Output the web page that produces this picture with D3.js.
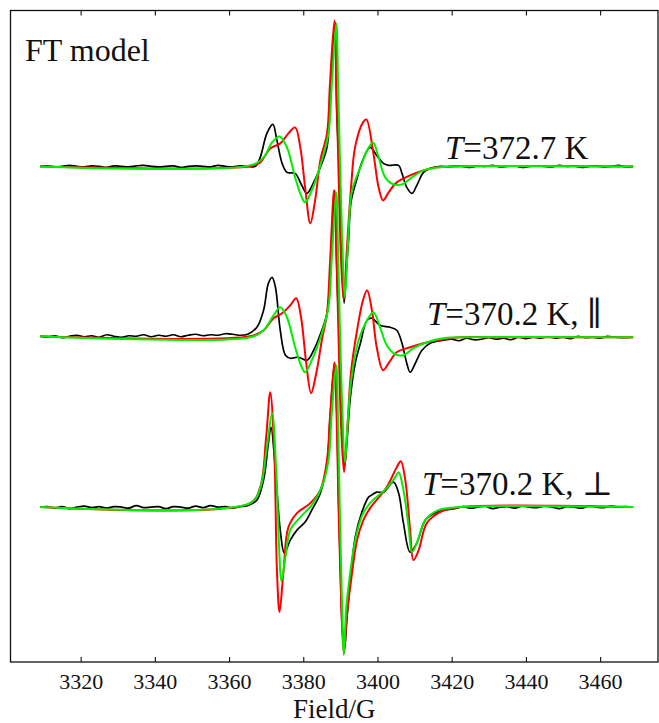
<!DOCTYPE html>
<html>
<head>
<meta charset="UTF-8">
<script src="https://cdn.jsdelivr.net/npm/d3@7"></script>
<style>
  body { margin: 0; background: #fff; }
</style>
</head>
<body>
<script>
// field axis (G) and tick values
const fieldExtent = [3301.1, 3475.6];
const xTicks = [3320, 3340, 3360, 3380, 3400, 3420, 3440, 3460];
// vertical offsets of the three stacked spectra (a.u.)
const offsets = [0, -170, -341];
const yDomain = [-496, 156];
const tempLabels = ["372.7 K", "370.2 K, \u2225", "370.2 K, \u22A5"];

// spectrum 1, T = 372.7 K  -- [field, intensity]
const black1 = [[3309.1,0],[3311,0.5],[3313,-0.5],[3315,0],[3317,1],[3319,0],[3321,-0.5],[3323,0.5],[3325,0],[3327,-1],[3329,0.5],[3331,0],[3333,-0.5],[3335,0.5],[3337,1],[3339,0],[3341,-0.5],[3343,0],[3345,0.5],[3347,-1],[3349,0],[3351,0.5],[3353,0],[3355,-0.5],[3357,1],[3359,0],[3361,-0.5],[3363,0.5],[3365,0],
  [3367.1,0],[3368.4,9],[3370.2,33],[3371.8,42],[3372.9,26],[3374.3,3],[3375.6,-6],[3377.8,-7],[3379.6,-19],[3381.0,-27],[3382.8,-16],[3385.0,3],[3386.4,19],[3387.2,66],[3388.2,133],[3388.6,144],
  [3389.0,56],[3389.8,-11],[3390.2,-77],[3391.0,-137],[3391.6,-105],[3392.2,-74],[3392.9,-35],[3394.5,-12],[3395.8,4],[3398.0,19],[3399.8,11],[3401.6,3],[3403.0,1],[3405.7,1],[3406.6,-7],[3407.9,-21],[3409.3,-27],[3410.6,-19],[3412.4,-6],[3414.2,-2],
  [3416.9,0],[3419,-0.5],[3421,0.5],[3423,0],[3425,-1],[3427,0.5],[3429,0],[3431,1],[3433,-0.5],[3435,0],[3437,0.5],[3439,-1],[3441,0],[3443,0.5],[3445,0],[3447,-0.5],[3449,1],[3451,0],[3453,0.5],[3455,-1],[3457,0],[3459,0.5],[3461,-0.5],[3463,0],[3465,1],[3467,-0.5],[3468.9,0]];
const red1 = [[3309.1,0],[3365.7,0],[3368.4,4],[3371.1,18],[3373.8,23],[3376.0,33],[3377.8,39],[3379.2,19],[3380.5,-21],[3381.9,-57],[3383.2,-34],[3384.6,6],[3386.4,33],[3387.2,83],[3388.4,146],
  [3389.0,70],[3389.6,-20],[3390.2,-95],[3390.9,-134],[3391.8,-80],[3392.9,-20],[3394.0,20],[3396.1,44],[3397.0,47],[3398.9,13],[3400.3,-21],[3401.5,-34],[3403.0,-26],[3405.2,-16],[3408.8,-9],[3412.4,-4],[3416.0,-1],[3420,0],[3468.9,0]];
const green1 = [[3309.1,0],[3365.7,1],[3369.3,9],[3371.6,24],[3373.6,30],[3375.6,19],[3377.8,-11],[3379.6,-31],[3380.5,-36],[3382.3,-24],[3385.0,6],[3386.8,33],[3387.7,83],[3388.9,143],
  [3389.4,80],[3390.0,-10],[3390.5,-75],[3391.2,-131],[3392.1,-74],[3393.1,-25],[3395.4,-1],[3397.2,16],[3398.8,24],[3400.3,9],[3402.1,-11],[3404.3,-18],[3406.6,-18],[3409.3,-11],[3412.4,-4],[3416.0,-1],[3420,0],[3468.9,0]];

// spectrum 2, T = 370.2 K, parallel
const black2 = [[3309.1,0],[3311,-1],[3313,0.5],[3315,-1.5],[3317,0],[3319,1],[3321,-0.5],[3323,0.5],[3325,-1],[3327,1.5],[3329,0],[3331,-1],[3333,0.5],[3335,0],[3337,1.5],[3339,-0.5],[3341,1],[3343,0],[3345,1.5],[3347,-0.5],[3349,1],[3351,2],[3353,0.5],[3355,1.5],[3357,1],[3359,2.5],[3361,2],[3363,1],[3365,2],
  [3367.5,9],[3369.3,26],[3370.6,53],[3371.6,59],[3372.5,49],[3373.8,6],[3375.2,-19],[3376.5,-22],[3378.7,-21],[3381.0,-24],[3382.8,-14],[3385.0,6],[3386.4,23],[3387.2,60],[3388.0,120],[3388.5,146],
  [3389.1,56],[3389.8,-10],[3390.3,-75],[3391.1,-131],[3391.8,-104],[3392.7,-61],[3394.0,-27],[3395.4,-7],[3397.2,16],[3398.5,18],[3400.7,11],[3403.4,9],[3405.2,6],[3406.6,-7],[3407.9,-27],[3408.8,-36],[3410.2,-27],[3412.0,-14],[3414.2,-7],[3417.8,-4],
  [3420,-3],[3422,-4.5],[3424,-2],[3426,-3.5],[3428,-3],[3430,-1.5],[3432,-3],[3434,-2],[3436,-3.5],[3438,-1],[3440,-2.5],[3442,-1],[3444,-2],[3446,-0.5],[3448,-2],[3450,-1],[3452,-2.5],[3454,0],[3456,-1.5],[3458,-1],[3460,-2],[3462,0],[3464,-1],[3466,-1.5],[3468.9,-1]];
const red2 = [[3309.1,0],[3365.7,0],[3369.3,6],[3372.0,18],[3374.3,23],[3376.5,31],[3378.1,38],[3379.4,19],[3380.8,-27],[3382.1,-57],[3383.5,-37],[3385.0,-4],[3386.4,23],[3387.2,73],[3388.3,146],
  [3388.9,90],[3389.5,0],[3390.2,-90],[3391.0,-136],[3391.9,-90],[3392.9,-35],[3394.5,6],[3396.1,36],[3397.2,46],[3398.5,26],[3399.8,-11],[3401.5,-34],[3403.0,-27],[3405.2,-16],[3408.8,-11],[3412.4,-7],[3417.8,-3],[3422.3,-1],[3430,-1],[3468.9,-1]];
const green2 = [[3309.1,0],[3365.7,-1],[3369.3,6],[3372.0,21],[3373.8,29],[3375.6,19],[3377.8,-11],[3379.6,-31],[3380.5,-36],[3382.3,-24],[3385.0,3],[3386.8,29],[3387.7,79],[3388.9,144],
  [3389.4,80],[3390.0,-10],[3390.5,-70],[3391.2,-126],[3392.1,-80],[3392.9,-45],[3394.9,-4],[3397.2,16],[3398.9,24],[3400.7,9],[3402.5,-9],[3404.8,-18],[3407.0,-19],[3409.7,-12],[3413.3,-6],[3417.8,-2],[3425,-1],[3468.9,-1]];

// spectrum 3, T = 370.2 K, perpendicular
const black3 = [[3309.1,0],[3311,0.5],[3313,-1],[3315,0.5],[3317,-1.5],[3319,0],[3321,1],[3323,-0.5],[3325,0.5],[3327,-1],[3329,0.5],[3331,0],[3333,-1],[3335,1.5],[3337,-0.5],[3339,0],[3341,0.5],[3343,-1.5],[3345,0.5],[3347,0],[3349,-1],[3351,1],[3353,-0.5],[3355,1.5],[3357,0],[3359,0.5],[3361,-1],[3363,0.5],[3365,1.5],
  [3367.5,7],[3369.3,27],[3370.6,64],[3371.3,80],[3372.5,37],[3373.8,-23],[3374.9,-46],[3376.5,-33],[3378.3,-23],[3380.5,-15],[3382.3,-3],[3384.6,14],[3386.4,44],[3387.2,87],[3388.4,144],
  [3389.0,100],[3389.5,10],[3390.0,-60],[3390.5,-120],[3391.1,-142],[3391.8,-110],[3392.7,-73],[3394.0,-30],[3395.8,-5],[3397.6,10],[3398.4,12],[3399.8,15],[3401.6,15],[3404.3,25],[3405.7,14],[3407.0,-16],[3408.8,-45],[3410.6,-36],[3412.9,-13],[3416.0,-5],
  [3421.4,-1],[3423,0.5],[3425,-1],[3427,0],[3429,1],[3431,-1.5],[3433,0],[3435,0.5],[3437,-1],[3439,1],[3441,0],[3443,-0.5],[3445,1],[3447,0],[3449,-1.5],[3451,0.5],[3453,0],[3455,-1],[3457,1],[3459,0],[3461,-0.5],[3463,1],[3465,0],[3467,0.5],[3468.9,0]];
const red3 = [[3309.1,0],[3365.7,4],[3368.4,20],[3370.0,70],[3371.1,115],[3372.2,54],[3372.9,-63],[3373.6,-105],[3374.7,-63],[3376.0,-20],[3378.3,-6],[3381.9,4],[3384.6,17],[3386.4,47],[3387.2,90],[3388.4,145],
  [3389.0,90],[3389.5,0],[3390.1,-80],[3390.6,-130],[3391.0,-146],[3391.7,-110],[3392.9,-73],[3394.5,-33],[3396.2,-13],[3398.0,-1],[3402.5,20],[3405.2,40],[3406.3,46],[3407.5,27],[3408.8,-23],[3409.7,-53],[3411.1,-43],[3413.3,-16],[3416.9,-5],[3422.3,0],[3468.9,0]];
const green3 = [[3309.1,0],[3365.7,4],[3368.4,19],[3370.2,60],[3371.6,94],[3372.7,37],[3373.6,-50],[3374.1,-74],[3375.2,-50],[3376.5,-23],[3379.2,-10],[3382.3,2],[3385.0,20],[3386.8,47],[3387.7,95],[3388.9,142],
  [3389.4,80],[3389.9,-10],[3390.4,-90],[3390.9,-148],[3391.6,-100],[3392.4,-73],[3394.0,-33],[3395.9,-8],[3398.0,4],[3402.5,19],[3404.8,30],[3405.7,35],[3407.0,17],[3408.4,-20],[3409.3,-45],[3410.6,-36],[3412.9,-13],[3416.4,-3],[3422.3,0],[3468.9,0]];

const spectra = [
  {black: black1, red: red1, green: green1},
  {black: black2, red: red2, green: green2},
  {black: black3, red: red3, green: green3}
];

const serif = '"Liberation Serif", "Times New Roman", Times, "Nimbus Roman", "DejaVu Serif", serif';

const W = 659, H = 723;
const margin = {top: 10.5, right: 1, bottom: 61, left: 10.5};
const width = W - margin.left - margin.right;
const height = H - margin.top - margin.bottom;

const svg = d3.select("body").append("svg")
  .attr("width", W).attr("height", H);
const g = svg.append("g")
  .attr("transform", "translate(" + margin.left + "," + margin.top + ")");

const x = d3.scaleLinear().domain(fieldExtent).range([0, width]);
const y = d3.scaleLinear().domain(yDomain).range([height, 0]);

// clip to frame
g.append("clipPath").attr("id", "clip")
  .append("rect").attr("width", width).attr("height", height);

const plot = g.append("g").attr("clip-path", "url(#clip)");

spectra.forEach(function(s, i) {
  const line = d3.line()
    .x(function(d) { return x(d[0]); })
    .y(function(d) { return y(d[1] + offsets[i]); })
    .curve(d3.curveCatmullRom.alpha(0.5));
  plot.append("path").datum(s.black)
    .attr("fill", "none").attr("stroke", "#000").attr("stroke-width", 1.7)
    .attr("stroke-linejoin", "round").attr("d", line);
  plot.append("path").datum(s.red)
    .attr("fill", "none").attr("stroke", "#ff0000").attr("stroke-width", 2)
    .attr("d", line);
  plot.append("path").datum(s.green)
    .attr("fill", "none").attr("stroke", "#00ee00").attr("stroke-width", 2)
    .attr("d", line);
});

// axes
const xb = g.append("g")
  .attr("transform", "translate(0," + height + ")")
  .call(d3.axisBottom(x).tickValues(xTicks).tickFormat(d3.format("d"))
    .tickSizeInner(-5).tickSizeOuter(0).tickPadding(11));
const xt = g.append("g")
  .call(d3.axisTop(x).tickValues(xTicks).tickFormat("")
    .tickSizeInner(-5).tickSizeOuter(0));
g.selectAll(".domain").remove();
g.selectAll(".tick line").attr("stroke", "#111").attr("stroke-width", 1.1);
xb.attr("font-family", serif).attr("font-size", 22);
xb.selectAll("text").attr("fill", "#111");

g.append("rect")
  .attr("width", width).attr("height", height)
  .attr("fill", "none").attr("stroke", "#111").attr("stroke-width", 1.3);

// axis label
svg.append("text")
  .attr("x", margin.left + width / 2).attr("y", 718)
  .attr("text-anchor", "middle").attr("font-size", 27)
  .attr("font-family", serif).attr("fill", "#111")
  .text("Field/G");

svg.append("text")
  .attr("x", 25).attr("y", 61)
  .attr("font-size", 32).attr("font-family", serif).attr("fill", "#111")
  .text("FT model");

// temperature labels
const labelPos = [[445, 159], [427, 325], [422, 495]];
tempLabels.forEach(function(t, i) {
  const tx = svg.append("text")
    .attr("x", labelPos[i][0]).attr("y", labelPos[i][1])
    .attr("font-size", 33).attr("font-family", serif).attr("fill", "#111");
  tx.append("tspan").attr("font-style", "italic").text("T");
  tx.append("tspan").text("=" + t);
});
</script>
</body>
</html>
